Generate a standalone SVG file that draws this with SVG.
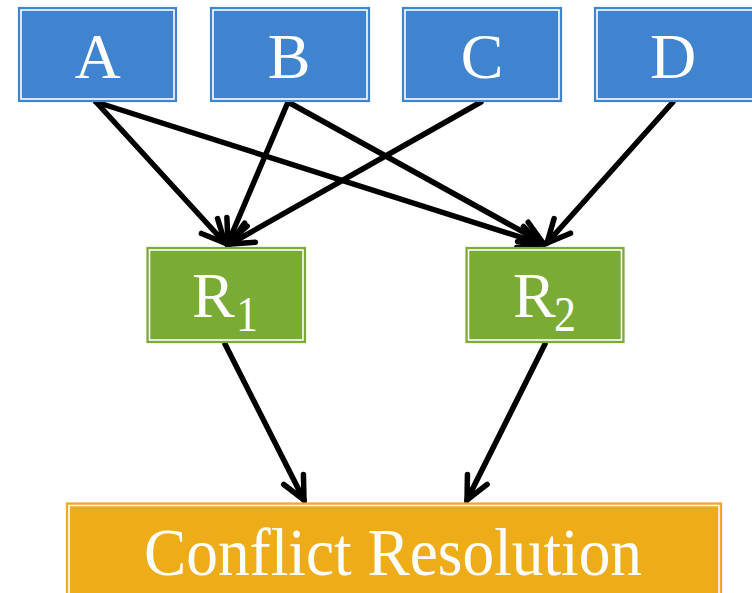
<svg xmlns="http://www.w3.org/2000/svg" width="752" height="593" viewBox="0 0 752 593">
<style>
.blue{fill:#4083CF;stroke:#4083CF;stroke-width:1.2}
.green{fill:#7AAB35;stroke:#7AAB35;stroke-width:1.2}
.orange{fill:#EEAC19;stroke:#EEAC19;stroke-width:1.2}
.inner{fill:none;stroke:#ffffff;stroke-width:1.6}
.lbl{font-family:"Liberation Serif","Times New Roman",serif;font-size:64px;fill:#ffffff}
.sub{font-family:"Liberation Serif","Times New Roman",serif;font-size:44px;fill:#ffffff}
.edge{stroke:#000;stroke-width:5.5;fill:none;stroke-linecap:round;marker-end:url(#arr)}
</style>
<defs>
<marker id="arr" markerUnits="userSpaceOnUse" viewBox="-30 -16 34 32" refX="0" refY="0" markerWidth="34" markerHeight="32" orient="auto" overflow="visible">
<path d="M-23,-11 L0,0 L-23,11" fill="none" stroke="#000" stroke-width="5.5" stroke-linecap="round" stroke-linejoin="miter"/>
</marker>
</defs>
<rect width="752" height="593" fill="#ffffff"/>
<g id="connectors">
<line class="edge" x1="96" y1="102" x2="225" y2="243"/>
<line class="edge" x1="96" y1="102" x2="542" y2="244"/>
<line class="edge" x1="288" y1="102" x2="228" y2="243"/>
<line class="edge" x1="288" y1="102" x2="543" y2="243"/>
<line class="edge" x1="481" y1="102" x2="230" y2="244"/>
<line class="edge" x1="673" y1="102" x2="547" y2="243"/>
<line class="edge" x1="225" y1="344" x2="304" y2="500"/>
<line class="edge" x1="545" y1="344" x2="467" y2="500"/>
</g>
<g id="A">
<rect class="blue" x="18.5" y="7.5" width="158" height="94"/>
<rect class="inner" x="21" y="10" width="153" height="89"/>
<text class="lbl" x="97.5" y="78" text-anchor="middle">A</text>
</g>
<g id="B">
<rect class="blue" x="210.5" y="7.5" width="159" height="94"/>
<rect class="inner" x="213" y="10" width="154" height="89"/>
<text class="lbl" x="289" y="78" text-anchor="middle">B</text>
</g>
<g id="C">
<rect class="blue" x="402.5" y="7.5" width="159" height="94"/>
<rect class="inner" x="405" y="10" width="154" height="89"/>
<text class="lbl" x="482" y="78" text-anchor="middle">C</text>
</g>
<g id="D">
<rect class="blue" x="594.5" y="7.5" width="160" height="94"/>
<rect class="inner" x="597" y="10" width="160" height="89"/>
<text class="lbl" x="673" y="78" text-anchor="middle">D</text>
</g>
<g id="R1">
<rect class="green" x="147" y="247.5" width="158.5" height="95"/>
<rect class="inner" x="149.5" y="250" width="153.5" height="90"/>
<text class="lbl" x="192" y="317">R</text>
<text class="sub" transform="translate(236,331) scale(1,1.17)">1</text>
</g>
<g id="R2">
<rect class="green" x="466" y="247.5" width="158" height="95"/>
<rect class="inner" x="468.5" y="250" width="153" height="90"/>
<text class="lbl" x="513" y="317">R</text>
<text class="sub" transform="translate(554,331) scale(1,1.17)">2</text>
</g>
<g id="ConflictResolution">
<rect class="orange" x="66.5" y="503" width="655" height="100"/>
<rect class="inner" x="69" y="505.5" width="650" height="100"/>
<text class="lbl" transform="translate(393,575) scale(1,1.07)" text-anchor="middle" textLength="498" lengthAdjust="spacingAndGlyphs">Conflict Resolution</text>
</g>
</svg>
